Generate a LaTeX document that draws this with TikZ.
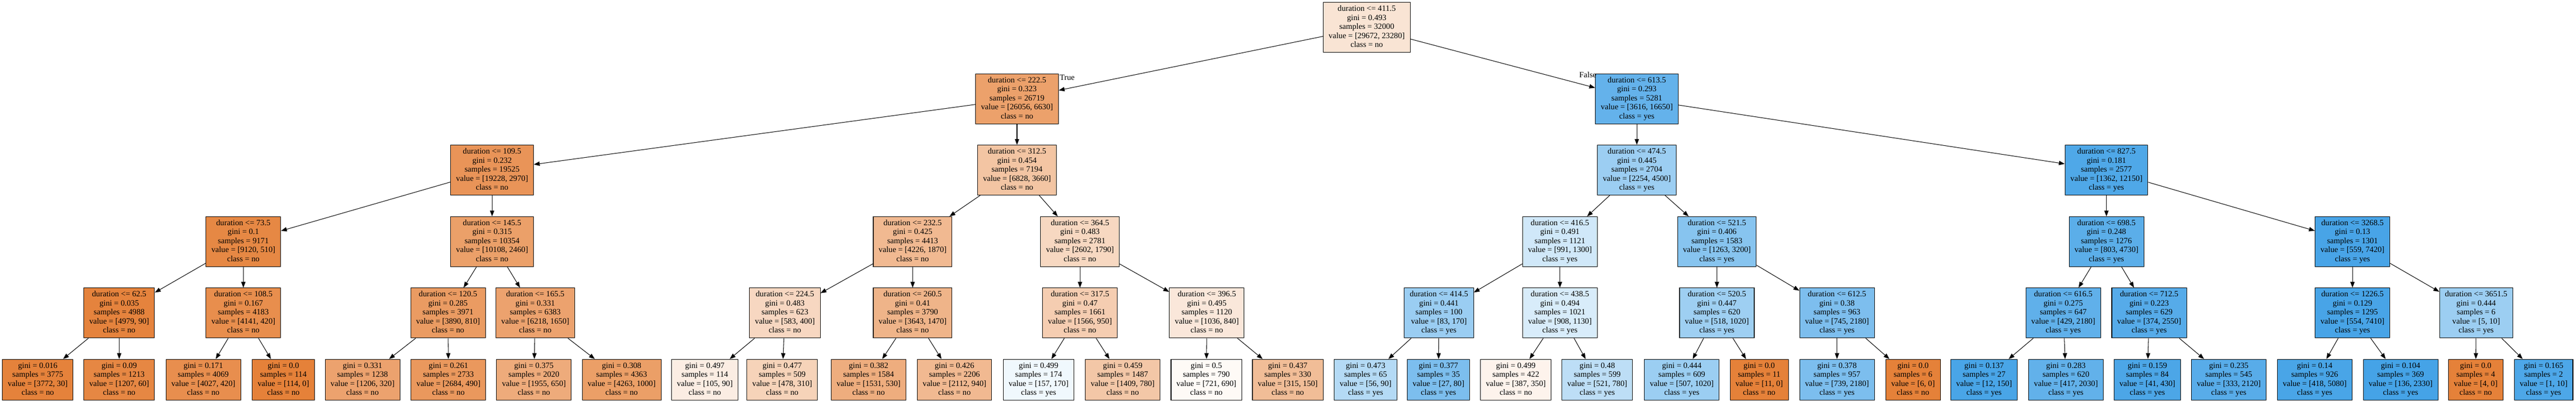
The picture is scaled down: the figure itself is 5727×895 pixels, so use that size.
\documentclass[tikz,border=0pt]{standalone}
\usepackage{fontspec}
\setmainfont{Liberation Serif}
\usetikzlibrary{arrows.meta}

\definecolor{clsno}{RGB}{229,129,57}
\definecolor{clsyes}{RGB}{57,157,229}

\tikzset{
  treebox/.style={draw=black, line width=1.2pt, anchor=north, align=center,
    inner xsep=12pt, inner ysep=5.5pt, font=\fontsize{18}{20}\selectfont},
  branch/.style={line width=1.2pt, -{Triangle[length=13pt,width=9.5pt]}},
  edgelbl/.style={inner sep=0pt, font=\fontsize{18}{20}\selectfont}
}

% class and fill shade from the two values
\newcommand{\setclass}[2]{%
  \ifnum\fpeval{#1>=#2}=1 \def\cls{no}\def\clr{clsno}\else\def\cls{yes}\def\clr{clsyes}\fi
  \edef\alp{\fpeval{round(100*(1-min(#1,#2)/max(#1,#2)),2)}}}

% name, x, top, threshold, gini, samples, value a, value b
\newcommand{\splitnode}[8]{%
  \setclass{#7}{#8}%
  \node[treebox, fill=\clr!\alp!white] (#1) at (#2,#3)
    {\strut duration <= #4\\gini = #5\\samples = #6\\value = [#7, #8]\\class = \cls\strut};}

% name, x, top, gini, samples, value a, value b
\newcommand{\leafnode}[7]{%
  \setclass{#6}{#7}%
  \node[treebox, fill=\clr!\alp!white] (#1) at (#2,#3)
    {\strut gini = #4\\samples = #5\\value = [#6, #7]\\class = \cls\strut};}

\begin{document}
\begin{tikzpicture}[x=1pt, y=-1pt]
  \useasboundingbox (0,0) rectangle (5727,895);

  % 1. Root and first splits
  \splitnode{n}{3038.5}{5}{411.5}{0.493}{32000}{29672}{23280}
  \splitnode{n0}{2261}{163.5}{222.5}{0.323}{26719}{26056}{6630}
  \splitnode{n1}{3639}{163.5}{613.5}{0.293}{5281}{3616}{16650}

  % 2. Depth 2
  \splitnode{n00}{1094}{322}{109.5}{0.232}{19525}{19228}{2970}
  \splitnode{n01}{2261}{322}{312.5}{0.454}{7194}{6828}{3660}
  \splitnode{n10}{3639}{322}{474.5}{0.445}{2704}{2254}{4500}
  \splitnode{n11}{4683}{322}{827.5}{0.181}{2577}{1362}{12150}

  % 3. Depth 3
  \splitnode{n000}{541}{481}{73.5}{0.1}{9171}{9120}{510}
  \splitnode{n001}{1094}{481}{145.5}{0.315}{10354}{10108}{2460}
  \splitnode{n010}{2029}{481}{232.5}{0.425}{4413}{4226}{1870}
  \splitnode{n011}{2401}{481}{364.5}{0.483}{2781}{2602}{1790}
  \splitnode{n100}{3468}{481}{416.5}{0.491}{1121}{991}{1300}
  \splitnode{n101}{3817}{481}{521.5}{0.406}{1583}{1263}{3200}
  \splitnode{n110}{4683}{481}{698.5}{0.248}{1276}{803}{4730}
  \splitnode{n111}{5230}{481}{3268.5}{0.13}{1301}{559}{7420}

  % 4. Depth 4
  \splitnode{n0000}{265}{639.5}{62.5}{0.035}{4988}{4979}{90}
  \splitnode{n0001}{541}{639.5}{108.5}{0.167}{4183}{4141}{420}
  \splitnode{n0010}{996}{639.5}{120.5}{0.285}{3971}{3890}{810}
  \splitnode{n0011}{1190}{639.5}{165.5}{0.331}{6383}{6218}{1650}
  \splitnode{n0100}{1745}{639.5}{224.5}{0.483}{623}{583}{400}
  \splitnode{n0101}{2029}{639.5}{260.5}{0.41}{3790}{3643}{1470}
  \splitnode{n0110}{2401}{639.5}{317.5}{0.47}{1661}{1566}{950}
  \splitnode{n0111}{2683}{639.5}{396.5}{0.495}{1120}{1036}{840}
  \splitnode{n1000}{3199}{639.5}{414.5}{0.441}{100}{83}{170}
  \splitnode{n1001}{3468}{639.5}{438.5}{0.494}{1021}{908}{1130}
  \splitnode{n1010}{3817}{639.5}{520.5}{0.447}{620}{518}{1020}
  \splitnode{n1011}{4084}{639.5}{612.5}{0.38}{963}{745}{2180}
  \splitnode{n1100}{4587}{639.5}{616.5}{0.275}{647}{429}{2180}
  \splitnode{n1101}{4778}{639.5}{712.5}{0.223}{629}{374}{2550}
  \splitnode{n1110}{5230}{639.5}{1226.5}{0.129}{1295}{554}{7410}
  \splitnode{n1111}{5505}{639.5}{3651.5}{0.444}{6}{5}{10}

  % 5. Leaves
  \leafnode{n00000}{84}{798}{0.016}{3775}{3772}{30}
  \leafnode{n00001}{265}{798}{0.09}{1213}{1207}{60}
  \leafnode{n00010}{452}{798}{0.171}{4069}{4027}{420}
  \leafnode{n00011}{630}{798}{0.0}{114}{114}{0}
  \leafnode{n00100}{806}{798}{0.331}{1238}{1206}{320}
  \leafnode{n00101}{997}{798}{0.261}{2733}{2684}{490}
  \leafnode{n00110}{1187}{798}{0.375}{2020}{1955}{650}
  \leafnode{n00111}{1382}{798}{0.308}{4363}{4263}{1000}
  \leafnode{n01000}{1567}{798}{0.497}{114}{105}{90}
  \leafnode{n01001}{1739}{798}{0.477}{509}{478}{310}
  \leafnode{n01010}{1931}{798}{0.382}{1584}{1531}{530}
  \leafnode{n01011}{2122}{798}{0.426}{2206}{2112}{940}
  \leafnode{n01100}{2309}{798}{0.499}{174}{157}{170}
  \leafnode{n01101}{2496}{798}{0.459}{1487}{1409}{780}
  \leafnode{n01110}{2682}{798}{0.5}{790}{721}{690}
  \leafnode{n01111}{2863}{798}{0.437}{330}{315}{150}
  \leafnode{n10000}{3036}{798}{0.473}{65}{56}{90}
  \leafnode{n10001}{3198}{798}{0.377}{35}{27}{80}
  \leafnode{n10010}{3370}{798}{0.499}{422}{387}{350}
  \leafnode{n10011}{3551}{798}{0.48}{599}{521}{780}
  \leafnode{n10100}{3739}{798}{0.444}{609}{507}{1020}
  \leafnode{n10101}{3911}{798}{0.0}{11}{11}{0}
  \leafnode{n10110}{4084}{798}{0.378}{957}{739}{2180}
  \leafnode{n10111}{4253}{798}{0.0}{6}{6}{0}
  \leafnode{n11000}{4411}{798}{0.137}{27}{12}{150}
  \leafnode{n11001}{4593}{798}{0.283}{620}{417}{2030}
  \leafnode{n11010}{4774}{798}{0.159}{84}{41}{430}
  \leafnode{n11011}{4955}{798}{0.235}{545}{333}{2120}
  \leafnode{n11100}{5146}{798}{0.14}{926}{418}{5080}
  \leafnode{n11101}{5337}{798}{0.104}{369}{136}{2330}
  \leafnode{n11110}{5504}{798}{0.0}{4}{4}{0}
  \leafnode{n11111}{5655}{798}{0.165}{2}{1}{10}

  % 6. Branches
  \foreach \p/\a/\b in {n/n0/n1, n0/n00/n01, n1/n10/n11,
      n00/n000/n001, n01/n010/n011, n10/n100/n101, n11/n110/n111,
      n000/n0000/n0001, n001/n0010/n0011, n010/n0100/n0101, n011/n0110/n0111,
      n100/n1000/n1001, n101/n1010/n1011, n110/n1100/n1101, n111/n1110/n1111,
      n0000/n00000/n00001, n0001/n00010/n00011, n0010/n00100/n00101, n0011/n00110/n00111,
      n0100/n01000/n01001, n0101/n01010/n01011, n0110/n01100/n01101, n0111/n01110/n01111,
      n1000/n10000/n10001, n1001/n10010/n10011, n1010/n10100/n10101, n1011/n10110/n10111,
      n1100/n11000/n11001, n1101/n11010/n11011, n1110/n11100/n11101, n1111/n11110/n11111}
    {\draw[branch] (\p) -- (\a); \draw[branch] (\p) -- (\b);}

  % 7. Edge labels
  \node[edgelbl, anchor=north west] (lbltrue) at ([xshift=2pt,yshift=-3pt]n0.north east) {True};
  \node[edgelbl, anchor=north east] (lblfalse) at ([xshift=3pt,yshift=4pt]n1.north west) {False};
\end{tikzpicture}
\end{document}
